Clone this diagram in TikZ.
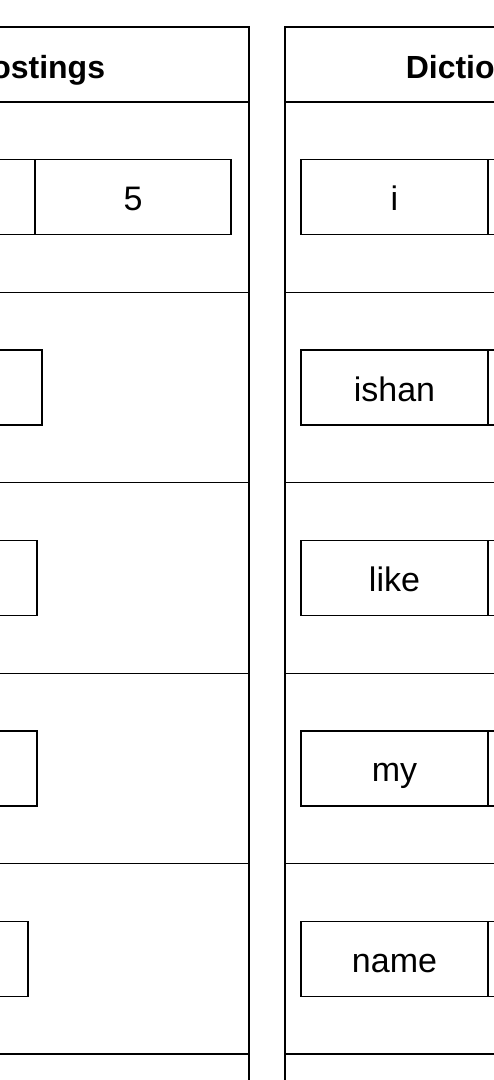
\documentclass[tikz,border=0pt]{standalone}
\usepackage{fontspec}
\setmainfont{Liberation Sans}
\usetikzlibrary{positioning}

\begin{document}
\begin{tikzpicture}[
		x=1pt, y=-1pt,
		% caja de panel (cabecera y filas)
		band/.style = {draw, rectangle, line width=1.3pt, outer sep=0pt, inner sep=0pt},
		% celda de una lista
		cell/.style = {draw, rectangle, line width=1.3pt, outer sep=0pt, inner sep=0pt, minimum height=75pt, text height=30pt, text depth=3pt, font=\fontsize{34}{40}\selectfont},
		heading/.style = {font=\fontsize{32}{38}\selectfont\bfseries, text height=30pt, text depth=3pt}
		]
		\useasboundingbox (0,0) rectangle (494,1080);
		\fill[white] (0,0) rectangle (494,1080);
		\clip (0,0) rectangle (494,1080);
		
		% --- PANEL IZQUIERDO: Postings ---
		\node [band, heading, minimum width=423pt, minimum height=75pt] at (37.5,64.5) (phead) {Postings};
		\node [band, minimum width=423pt, minimum height=190.4pt, below=0pt of phead] (prow1) {};
		\node [band, minimum width=423pt, minimum height=190.4pt, below=0pt of prow1] (prow2) {};
		\node [band, minimum width=423pt, minimum height=190.4pt, below=0pt of prow2] (prow3) {};
		\node [band, minimum width=423pt, minimum height=190.4pt, below=0pt of prow3] (prow4) {};
		\node [band, minimum width=423pt, minimum height=190.4pt, below=0pt of prow4] (prow5) {};
		\node [band, minimum width=423pt, minimum height=190.4pt, below=0pt of prow5] (prow6) {};
		
		\node [cell, minimum width=196pt, left=18pt of prow1.east] (post1) {5};
		\node [cell, minimum width=196pt, left=0pt of post1] (doc1) {};
		\node [cell, minimum width=196pt, left=207pt of prow2.east] (post2) {};
		\node [cell, minimum width=196pt, left=212pt of prow3.east] (post3) {};
		\node [cell, minimum width=196pt, left=212pt of prow4.east] (post4) {};
		\node [cell, minimum width=196pt, left=221pt of prow5.east] (post5) {};
		
		% --- PANEL DERECHO: Dictionary ---
		\node [band, heading, minimum width=398pt, minimum height=75pt] at (484,64.5) (dhead) {Dictionary};
		\node [band, minimum width=398pt, minimum height=190.4pt, below=0pt of dhead] (drow1) {};
		\node [band, minimum width=398pt, minimum height=190.4pt, below=0pt of drow1] (drow2) {};
		\node [band, minimum width=398pt, minimum height=190.4pt, below=0pt of drow2] (drow3) {};
		\node [band, minimum width=398pt, minimum height=190.4pt, below=0pt of drow3] (drow4) {};
		\node [band, minimum width=398pt, minimum height=190.4pt, below=0pt of drow4] (drow5) {};
		\node [band, minimum width=398pt, minimum height=190.4pt, below=0pt of drow5] (drow6) {};
		
		\node [cell, minimum width=187pt, right=16pt of drow1.west] (term1) {i};
		\node [cell, minimum width=187pt, right=0pt of term1] (ptr1) {};
		\node [cell, minimum width=187pt, right=16pt of drow2.west] (term2) {ishan};
		\node [cell, minimum width=187pt, right=0pt of term2] (ptr2) {};
		\node [cell, minimum width=187pt, right=16pt of drow3.west] (term3) {like};
		\node [cell, minimum width=187pt, right=0pt of term3] (ptr3) {};
		\node [cell, minimum width=187pt, right=16pt of drow4.west] (term4) {my};
		\node [cell, minimum width=187pt, right=0pt of term4] (ptr4) {};
		\node [cell, minimum width=187pt, right=16pt of drow5.west] (term5) {name};
		\node [cell, minimum width=187pt, right=0pt of term5] (ptr5) {};
		
	\end{tikzpicture}
\end{document}
